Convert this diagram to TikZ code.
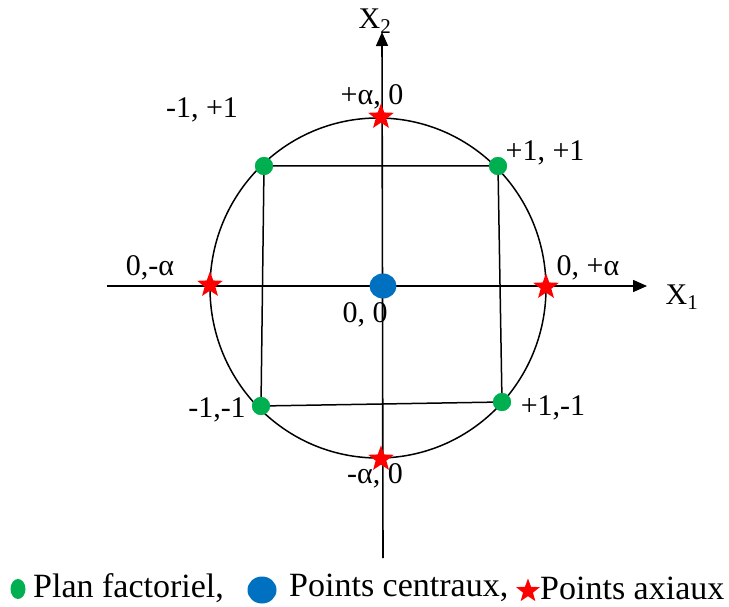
\documentclass[tikz,border=0pt]{standalone}
\usepackage{fontspec}
\setmainfont{Liberation Serif}
\usetikzlibrary{shapes.geometric,arrows.meta}
\tikzset{
  lbl/.style={font=\fontsize{30}{31}\selectfont, inner sep=0pt},
  leg/.style={font=\fontsize{34}{35}\selectfont, inner sep=0pt, anchor=west},
  gdot/.style={circle, fill={rgb,255:red,0;green,176;blue,80}, minimum size=18pt, inner sep=0pt},
  bdot/.style={ellipse, fill={rgb,255:red,0;green,112;blue,192}, minimum width=27pt, minimum height=25pt, inner sep=0pt},
  rstar/.style={star, star points=5, star point ratio=2.4, fill=red, minimum size=27pt, inner sep=0pt},
  axis/.style={line width=1.6pt, -{Triangle[length=14pt,width=12pt]}},
  thin/.style={line width=1.5pt}
}
\begin{document}
\begin{tikzpicture}[x=1pt,y=-1pt]
\useasboundingbox (0,0) rectangle (729,607);
% axes
\coordinate (hs) at (107,286);
\coordinate (he) at (647,286);
\coordinate (vs) at (383,558);
\coordinate (ve) at (382,32);
\draw[thin] (378,288) ellipse [x radius=168, y radius=170];
% square
\node[gdot] (tl) at (264,166) {};
\node[gdot] (tr) at (498,166) {};
\node[gdot] (bl) at (261,406) {};
\node[gdot] (br) at (502,402) {};
\draw[thin] (tl) -- (tr) -- (br) -- (bl) -- (tl);
\draw[axis] (hs) -- (he);
\draw[axis] (vs) -- (ve);
\node[gdot] at (tl) {};
\node[gdot] at (tr) {};
\node[gdot] at (bl) {};
\node[gdot] at (br) {};
% center
\node[bdot] (c) at (383,286) {};
% stars
\node[rstar] (st) at (381,117) {};
\node[rstar] (sb) at (381,459) {};
\node[rstar] (sl) at (210,285) {};
\node[rstar] (sr) at (546,287) {};
% labels
\node[lbl] (x2) at (375,21) {X\textsubscript{2}};
\node[lbl] (x1) at (682,297) {X\textsubscript{1}};
\node[lbl] (lt) at (372,97) {+α, 0};
\node[lbl] (ltl) at (202,110) {-1, +1};
\node[lbl] (ltr) at (545,153) {+1, +1};
\node[lbl] (ll) at (150,268) {0,-α};
\node[lbl] (lr) at (588,268) {0, +α};
\node[lbl] (lc) at (365,315) {0, 0};
\node[lbl] (lbl1) at (217,410) {-1,-1};
\node[lbl] (lbr) at (553,408) {+1,-1};
\node[lbl] (lb) at (375,476) {-α, 0};
% legend
\node[gdot, minimum width=15pt, minimum height=20pt, ellipse] (g1) at (18,589) {};
\node[leg] (t1) at (33,588) {Plan factoriel,};
\node[bdot, minimum width=29pt, minimum height=27pt] (b1) at (262,590) {};
\node[leg] (t2) at (289,588) {Points centraux,};
\node[rstar, minimum size=25pt] (s1) at (528,591) {};
\node[leg] (t3) at (540,588) {Points axiaux};
\end{tikzpicture}
\end{document}
